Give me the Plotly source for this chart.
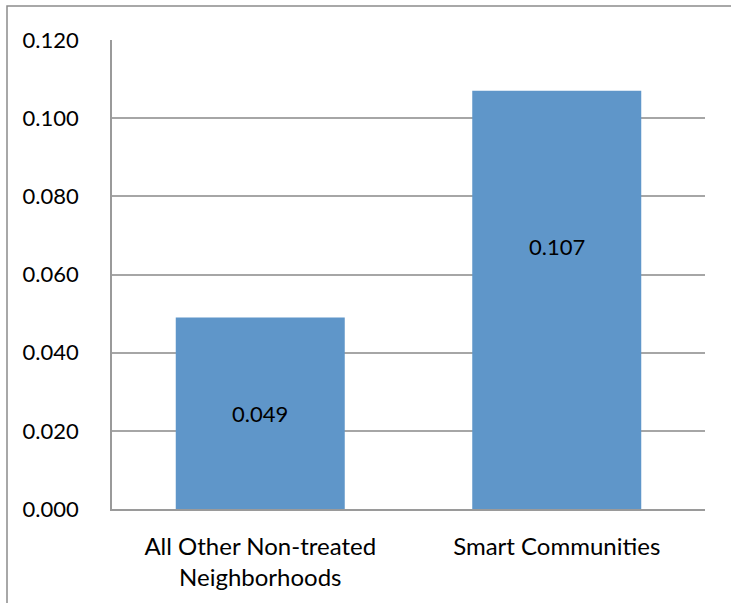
import plotly.graph_objects as go

categories = ["All Other Non-treated<br>Neighborhoods", "Smart Communities"]
values = [0.049, 0.107]
tick_vals = [0.0, 0.02, 0.04, 0.06, 0.08, 0.10, 0.12]
tick_text = ["0.000", "0.020", "0.040", "0.060", "0.080", "0.100", "0.120"]
label_frac = [0.50, 0.627]

FONT = "Lato"
fig = go.Figure()
fig.add_trace(go.Bar(
    x=categories, y=values,
    marker=dict(color="#5F96C9", line=dict(width=0)),
    hoverinfo="skip",
))
for c, v, f in zip(categories, values, label_frac):
    fig.add_annotation(x=c, y=v * f, text=f"{v:.3f}", showarrow=False,
                       font=dict(family=FONT, size=22, color="black"))

W, H = 731, 603
L, R, T, B = 112, 26, 40, 94
pw, ph = W - L - R, H - T - B
x0 = (7 - L) / pw
y1 = (H - B - 6) / ph
fig.add_shape(type="rect", xref="paper", yref="paper",
              x0=x0, x1=1.2, y0=-0.5, y1=y1,
              line=dict(color="#8C8C8C", width=1.5), layer="below")

fig.update_layout(
    width=W, height=H,
    margin=dict(l=L, r=R, t=T, b=B, pad=0, autoexpand=False),
    paper_bgcolor="white", plot_bgcolor="white",
    bargap=0.43, showlegend=False,
    font=dict(family=FONT, size=22, color="black"),
)
fig.update_xaxes(showline=True, linecolor="#9A9A9A", linewidth=1.5,
                 ticks="", tickfont=dict(family=FONT, size=24, color="black"),
                 showgrid=False, ticklabelstandoff=15, automargin=False)
fig.update_yaxes(range=[0, 0.12], tickvals=tick_vals, ticktext=tick_text,
                 showline=True, linecolor="#9A9A9A", linewidth=1.5,
                 showgrid=True, gridcolor="#A6A6A6", gridwidth=1.5,
                 zeroline=False, ticks="", ticklabelstandoff=27, automargin=False,
                 tickfont=dict(family=FONT, size=22, color="black"))
fig.write_html("out.html")
